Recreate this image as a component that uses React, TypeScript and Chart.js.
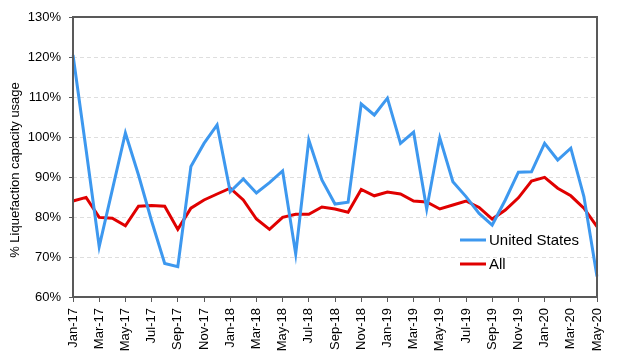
import React, { useEffect, useRef } from "react";
import { Chart, registerables } from "chart.js";

Chart.register(...registerables);

const months: string[] = [
  "Jan-17", "Feb-17", "Mar-17", "Apr-17", "May-17", "Jun-17", "Jul-17", "Aug-17", "Sep-17", "Oct-17", "Nov-17", "Dec-17",
  "Jan-18", "Feb-18", "Mar-18", "Apr-18", "May-18", "Jun-18", "Jul-18", "Aug-18", "Sep-18", "Oct-18", "Nov-18", "Dec-18",
  "Jan-19", "Feb-19", "Mar-19", "Apr-19", "May-19", "Jun-19", "Jul-19", "Aug-19", "Sep-19", "Oct-19", "Nov-19", "Dec-19",
  "Jan-20", "Feb-20", "Mar-20", "Apr-20", "May-20",
];

const unitedStates: number[] = [
  120.5, 96.8, 72.6, 86.8, 101, 90.5, 79, 68.4, 67.6, 92.6, 98.4, 103,
  86.3, 89.5, 86, 88.6, 91.5, 70.75, 99.25, 89.25, 83.25, 83.7, 108.25, 105.5,
  109.7, 98.4, 101.2, 82, 99.8, 88.8, 85.1, 80.9, 78, 84.25, 91.2, 91.3,
  98.4, 94.25, 97.2, 85.1, 65.1,
];

const allMarkets: number[] = [
  84, 84.9, 79.9, 79.7, 77.8, 82.7, 82.9, 82.7, 76.9, 82.2, 84.25, 85.75,
  87.2, 84.25, 79.5, 76.9, 79.9, 80.7, 80.7, 82.5, 82, 81.2, 86.9, 85.3,
  86.25, 85.75, 84, 83.75, 82, 83, 84, 82.4, 79.5, 81.75, 84.8, 89,
  89.9, 87.2, 85.3, 82.2, 77.6,
];

const seriesNames: string[] = ["United States", "All"];
const yTitle = "% Liquefaction capacity usage";

const FONT = "'Liberation Sans', Arial, sans-serif";
const FRAME = "#595959";

const framePlugin = {
  id: "frame",
  afterDatasetsDraw(chart: any) {
    const { ctx, chartArea } = chart;
    ctx.save();
    ctx.strokeStyle = FRAME;
    ctx.lineWidth = 2;
    ctx.strokeRect(chartArea.left, chartArea.top, chartArea.right - chartArea.left, chartArea.bottom - chartArea.top);
    ctx.restore();
  },
};

const yTitlePlugin = {
  id: "yTitle",
  afterDraw(chart: any) {
    const { ctx, chartArea } = chart;
    ctx.save();
    ctx.translate(15, (chartArea.top + chartArea.bottom) / 2 + 13);
    ctx.rotate(-Math.PI / 2);
    ctx.font = `13px ${FONT}`;
    ctx.fillStyle = "#000";
    ctx.textAlign = "center";
    ctx.textBaseline = "middle";
    ctx.fillText(yTitle, 0, 0);
    ctx.restore();
  },
};

const legendPlugin = {
  id: "insideLegend",
  afterDraw(chart: any) {
    const { ctx, chartArea } = chart;
    ctx.save();
    ctx.font = `15px ${FONT}`;
    ctx.textBaseline = "middle";
    ctx.textAlign = "left";
    chart.data.datasets.forEach((ds: any, i: number) => {
      const y = chartArea.bottom - 57 + i * 24;
      const x0 = chartArea.right - 137;
      ctx.strokeStyle = ds.borderColor;
      ctx.lineWidth = 3;
      ctx.beginPath();
      ctx.moveTo(x0, y);
      ctx.lineTo(x0 + 26, y);
      ctx.stroke();
      ctx.fillStyle = "#000";
      ctx.fillText(ds.label, x0 + 29, y + 1);
    });
    ctx.restore();
  },
};

export default function App() {
  const ref = useRef<HTMLCanvasElement | null>(null);

  useEffect(() => {
    document.body.style.margin = "0";
    if (!ref.current) return;
    const chart = new Chart(ref.current, {
      type: "line",
      data: {
        labels: months,
        datasets: [
          {
            label: seriesNames[0],
            data: unitedStates,
            borderColor: "#3d98ef",
            backgroundColor: "#3d98ef",
            borderWidth: 3,
            pointRadius: 0,
            tension: 0,
          },
          {
            label: seriesNames[1],
            data: allMarkets,
            borderColor: "#e00000",
            backgroundColor: "#e00000",
            borderWidth: 3,
            pointRadius: 0,
            tension: 0,
          },
        ],
      },
      options: {
        responsive: false,
        animation: false,
        events: [],
        layout: { padding: { top: 17, right: 27, left: 0, bottom: 0 } },
        plugins: {
          legend: { display: false },
          tooltip: { enabled: false },
        },
        scales: {
          x: {
            type: "category",
            offset: false,
            afterFit: (axis: any) => {
              axis.height = 65;
            },
            grid: {
              drawOnChartArea: false,
              drawTicks: true,
              tickLength: 5,
              tickWidth: 1,
              tickColor: (c: any) => (c.index % 2 === 0 ? FRAME : "rgba(0,0,0,0)"),
            },
            border: { display: false },
            ticks: {
              autoSkip: false,
              minRotation: 90,
              maxRotation: 90,
              padding: 6,
              color: "#000",
              font: { family: FONT, size: 13 },
              callback: function (this: any, v: any, i: number) {
                return i % 2 === 0 ? this.getLabelForValue(v) : "";
              },
            },
          },
          y: {
            min: 60,
            max: 130,
            afterFit: (axis: any) => {
              axis.width = 73;
            },
            grid: {
              color: "#dedede",
              lineWidth: 1,
              drawTicks: true,
              tickLength: 4,
              tickColor: FRAME,
              tickBorderDash: [],
            },
            border: { display: false, dash: [4, 3] },
            ticks: {
              stepSize: 10,
              padding: 8,
              color: "#000",
              font: { family: FONT, size: 13 },
              callback: (v: any) => `${v}%`,
            },
          },
        },
      },
      plugins: [framePlugin, yTitlePlugin, legendPlugin],
    });
    return () => chart.destroy();
  }, []);

  return (
    <div style={{ width: 624, height: 362 }}>
      <canvas ref={ref} width={624} height={362} style={{ display: "block" }} />
    </div>
  );
}
